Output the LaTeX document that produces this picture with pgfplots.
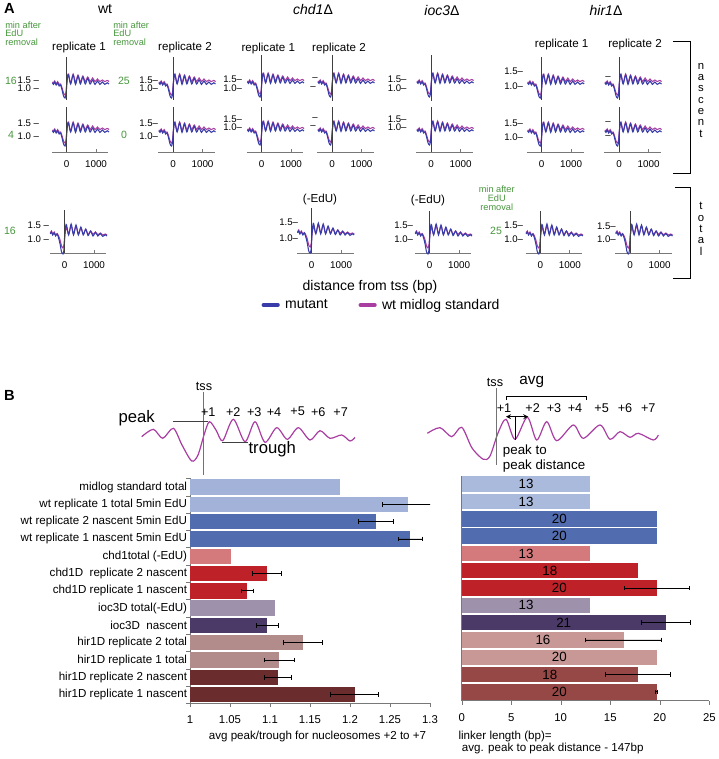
\documentclass[border=0pt]{standalone}
\usepackage{fontspec}
\setmainfont{Liberation Sans}
\usepackage{pgfplots}
\pgfplotsset{compat=1.18}
\usepackage{pgfplotstable}
\definecolor{mut}{RGB}{55,60,168}
\definecolor{wtc}{RGB}{168,62,162}
\definecolor{grn}{RGB}{70,150,60}
\definecolor{axg}{RGB}{120,120,120}
\definecolor{lb}{RGB}{163,178,216}
\definecolor{mb}{RGB}{82,108,176}
\definecolor{pk}{RGB}{213,122,124}
\definecolor{rd}{RGB}{190,33,40}
\definecolor{lav}{RGB}{158,145,172}
\definecolor{dp}{RGB}{75,57,103}
\definecolor{rb}{RGB}{178,140,138}
\definecolor{mr}{RGB}{107,44,46}
\definecolor{rb2}{RGB}{200,152,150}
\definecolor{mr2}{RGB}{150,72,70}
\definecolor{lb2}{RGB}{170,186,220}

\pgfplotstableread{
x y
-480 1.05
-440 0.98
-400 1.10
-350 0.95
-300 1.05
-250 0.90
-200 0.95
-150 0.70
-100 0.40
-50 0.30
-15 0.50
10 1.00
40 1.40
70 1.45
140 1.00
225 1.45
305 0.98
390 1.40
470 1.00
555 1.35
635 1.00
720 1.28
800 1.00
885 1.20
965 0.98
1050 1.15
1130 0.98
1215 1.10
1295 0.98
1380 1.06
1440 1.00
}\nasMut
\pgfplotstableread{
x y
-480 1.10
-440 1.05
-400 1.15
-350 1.00
-300 1.12
-250 0.98
-200 1.00
-150 0.80
-100 0.55
-50 0.45
-15 0.60
10 1.05
40 1.40
70 1.50
140 1.05
225 1.50
305 1.08
390 1.45
470 1.10
555 1.40
635 1.12
720 1.35
800 1.12
885 1.30
965 1.12
1050 1.25
1130 1.12
1215 1.20
1295 1.12
1380 1.18
1440 1.12
}\nasWT
\pgfplotstableread{
x y
-480 1.10
-440 1.20
-400 1.05
-350 1.15
-300 1.00
-250 1.10
-200 0.90
-150 0.60
-100 0.20
-50 0.10
-15 0.35
10 1.00
40 1.50
70 1.55
140 1.05
225 1.60
305 1.05
390 1.55
470 1.05
555 1.45
635 1.05
720 1.35
800 1.02
885 1.25
965 1.00
1050 1.18
1130 1.00
1215 1.12
1295 0.98
1380 1.06
1440 1.00
}\totMut
\pgfplotstableread{
x y
-480 1.15
-440 1.25
-400 1.10
-350 1.20
-300 1.05
-250 1.12
-200 1.00
-150 0.80
-100 0.50
-50 0.40
-15 0.60
10 1.05
40 1.30
70 1.45
140 1.10
225 1.50
305 1.12
390 1.50
470 1.10
555 1.40
635 1.10
720 1.32
800 1.08
885 1.25
965 1.08
1050 1.20
1130 1.06
1215 1.15
1295 1.05
1380 1.10
1440 1.05
}\totWT

\pgfplotsset{
  mini/.style={x=0.022125pt, y=15pt, xmin=-500, xmax=1420, clip=false,
    axis y line=none, ytick=\empty},
  noxax/.style={axis x line=none, xtick=\empty},
  xax/.style={axis x line*=bottom, xtick={0,1000}, xticklabels={0,1000},
    tick align=inside, major tick length=2.2pt,
    x axis line style={draw=axg, line width=0.6pt, -},
    xtick style={draw=axg, line width=0.6pt},
    xticklabel style={font=\fontsize{7.4}{8}\selectfont, inner sep=0pt, yshift=-6.5pt}},
  bar/.style={xbar, bar width=11.6pt, bar shift=0pt, draw=none, fill=#1},
  eb/.style={error bars/.cd, x dir=both, x explicit, error mark=|,
    error bar style={black, line width=0.55pt},
    error mark options={black, line width=0.55pt, mark size=1.7pt}},
}

\newcommand{\mini}[7]{%
  \pgfmathsetmacro{\ylo}{1-(#4-#2)/20}%
  \pgfmathsetmacro{\yhi}{1+(#2-#3)/20}%
  \pgfmathsetmacro{\ax}{(#1-14.75)*0.75}%
  \pgfmathsetmacro{\ay}{-#4*0.75}%
  \begin{axis}[mini, at={(\ax pt,\ay pt)}, anchor=south west, ymin=\ylo, ymax=\yhi, #7]
    \addplot[wtc, line width=0.8pt, smooth] table {#6};
    \addplot[mut, line width=0.8pt, smooth] table {#5};
    \addplot[black!75, line width=0.7pt] coordinates {(0,\ylo) (0,\yhi)};
  \end{axis}}

\newcommand{\fs}[1]{\fontsize{#1}{#1}\selectfont}

\begin{document}
\begin{tikzpicture}[x=0.75pt,y=0.75pt]
\path[use as bounding box] (0,0) rectangle (718,-759);

% ---------------- Panel A -----------------
\node[font=\fs{11}\bfseries] at (9.3,-8.3) {A};
\node[font=\fs{10.5}] at (105,-9.3) {wt};
\node[font=\fs{10.5}] at (313,-10) {\textit{chd1}Δ};
\node[font=\fs{10.5}] at (442,-10) {\textit{ioc3}Δ};
\node[font=\fs{10.5}] at (606,-10) {\textit{hir1}Δ};

\begin{scope}[every node/.style={font=\fs{6.9}, text=grn, inner sep=0pt}]
\node[anchor=west] at (5,-25) {min after};
\node[anchor=west] at (5,-33.5) {EdU};
\node[anchor=west] at (5,-42.5) {removal};
\node[anchor=west] at (113,-25) {min after};
\node[anchor=west] at (113,-33.5) {EdU};
\node[anchor=west] at (113,-42.5) {removal};
\node at (496.7,-189) {min after};
\node at (496.7,-198) {EdU};
\node at (496.7,-207.7) {removal};
\end{scope}
\begin{scope}[every node/.style={font=\fs{7.9}, text=grn, inner sep=0pt}]
\node at (11,-81) {16};
\node at (124,-81) {25};
\node at (11,-135) {4};
\node at (124,-135) {0};
\node at (10,-231) {16};
\node at (496,-231) {25};
\end{scope}

\begin{scope}[every node/.style={font=\fs{8.7}, inner sep=0pt}]
\node at (79,-47.7) {replicate 1};
\node at (185,-47.7) {replicate 2};
\node at (268.3,-48.3) {replicate 1};
\node at (339,-48.3) {replicate 2};
\node at (561.7,-44.3) {replicate 1};
\node at (635,-44.3) {replicate 2};
\node at (320,-199) {(-EdU)};
\node at (428,-200.7) {(-EdU)};
\end{scope}

% y labels of mini plots
\begin{scope}[every node/.style={font=\fs{7.2}, inner sep=0pt, anchor=east}]
\node at (39.3,-80) {1.5 –}; \node at (39.3,-88.5) {1.0 –};
\node at (158.3,-80) {1.5–}; \node at (158.3,-88.5) {1.0–};
\node at (242.3,-79.5) {1.5–}; \node at (242.3,-88) {1.0–};
\node at (318,-79.5) {–}; \node at (316,-88) {–};
\node at (406.7,-79.5) {1.5–}; \node at (406.7,-88) {1.0–};
\node at (523.3,-71) {1.5–}; \node at (523.3,-86) {1.0–};
\node at (611,-77.7) {–};
\node at (39.3,-123) {1.5 –}; \node at (39.3,-136) {1.0 –};
\node at (158.3,-123) {1.5–}; \node at (158.3,-136) {1.0–};
\node at (242.3,-119) {1.5–}; \node at (242.3,-127.5) {1.0–};
\node at (318,-119) {–}; \node at (316,-127.5) {–};
\node at (406.7,-119) {1.5–}; \node at (406.7,-127.5) {1.0–};
\node at (523.3,-123.3) {1.5–}; \node at (523.3,-136.7) {1.0–};
\node at (611,-122.7) {–}; \node at (611,-136.7) {–};
\node at (49.3,-225) {1.5 –}; \node at (49.3,-239) {1.0 –};
\node at (298.3,-222.3) {1.5–}; \node at (298.3,-237.7) {1.0–};
\node at (413.3,-225) {1.5–}; \node at (413.3,-239) {1.0–};
\node at (523.3,-225) {1.5–}; \node at (523.3,-239) {1.0–};
\node at (616,-226.7) {1.5–}; \node at (616,-239) {1.0–};
\end{scope}

% row 1 (nascent, no x axis)
\mini{66.5}{84}{57}{100}{\nasMut}{\nasWT}{noxax}
\mini{173}{84}{57}{100}{\nasMut}{\nasWT}{noxax}
\mini{261.5}{83}{55}{101}{\nasMut}{\nasWT}{noxax}
\mini{332}{83}{55}{101}{\nasMut}{\nasWT}{noxax}
\mini{431}{83}{55}{101}{\nasMut}{\nasWT}{noxax}
\mini{541.7}{84}{57}{100}{\nasMut}{\nasWT}{noxax}
\mini{619}{84}{57}{100}{\nasMut}{\nasWT}{noxax}
% row 2 (nascent, x axis)
\mini{66.5}{132}{107}{152}{\nasMut}{\nasWT}{xax}
\mini{173}{132}{107}{152}{\nasMut}{\nasWT}{xax}
\mini{261.5}{131}{107}{152}{\nasMut}{\nasWT}{xax}
\mini{332}{131}{107}{152}{\nasMut}{\nasWT}{xax}
\mini{431}{131}{107}{152}{\nasMut}{\nasWT}{xax}
\mini{541.7}{132}{107}{152}{\nasMut}{\nasWT}{xax}
\mini{619}{132}{107}{152}{\nasMut}{\nasWT}{xax}
% total row
\mini{64.5}{236}{210}{253}{\totMut}{\totWT}{xax}
\mini{311.7}{235}{208}{253}{\totMut}{\totWT}{xax}
\mini{429.5}{236}{211}{253}{\totMut}{\totWT}{xax}
\mini{540.3}{236}{211}{253}{\totMut}{\totWT}{xax}
\mini{630}{236}{211}{253}{\totMut}{\totWT}{xax}

% brackets
\draw[black, line width=0.8pt] (673,-41.7) -- (690.7,-41.7) -- (690.7,-173.3) -- (673,-173.3);
\draw[black, line width=0.8pt] (675,-187.3) -- (690.7,-187.3) -- (690.7,-278.3) -- (673,-278.3);
\node[font=\fs{8.5}, align=center, inner sep=0pt] at (701,-100) {\baselineskip=5.6pt n\\a\\s\\c\\e\\n\\t};
\node[font=\fs{8.5}, align=center, inner sep=0pt] at (701,-229) {\baselineskip=5.6pt t\\o\\t\\a\\l};

\node[font=\fs{10.5}] at (370,-287.3) {distance from tss (bp)};

% ---------------- overlay axis: legend + schematics -----------------
\begin{axis}[at={(0pt,0pt)}, anchor=north west, scale only axis, width=538.5pt, height=569.25pt,
  xmin=0, xmax=718, ymin=-759, ymax=0, hide axis, clip=false,
  legend style={at={(0.3640,0.5982)}, anchor=west, draw=none, fill=none,
    font=\fs{10.5}, legend columns=2, inner sep=0pt,
    /tikz/every odd column/.append style={column sep=2pt},
    /tikz/every even column/.append style={column sep=21pt}},
  legend image code/.code={\draw[#1, line width=2.6pt, line cap=round] (0pt,0pt) -- (11pt,0pt);}]
\addlegendimage{mut}\addlegendentry{mutant}
\addlegendimage{wtc}\addlegendentry{wt midlog standard}
% schematic 1
\addplot[wtc, line width=0.9pt, smooth, forget plot] coordinates {
(141.7,-436.7) (153.3,-429.3) (162.7,-438.3) (173.3,-428.3) (182,-445) (191.7,-461)
(198,-455) (204,-435) (209.3,-421.7) (216,-430) (222.7,-440.7) (233.3,-419.3)
(245,-441.7) (255,-421.7) (265,-442.3) (276.7,-427.7) (287.3,-439.3) (298.3,-427.7)
(310,-440) (320,-430.7) (330,-438.3) (341.7,-435) (350,-441) (355,-437.3)};
% schematic 2
\addplot[wtc, line width=0.9pt, smooth, forget plot] coordinates {
(427.3,-433.3) (440,-427.7) (451.7,-436.7) (461.7,-427.3) (472,-448) (483.3,-459.3)
(490,-456) (498,-433) (506,-419.3) (515,-439.3) (527.3,-417.3) (536.7,-440)
(546.7,-421.7) (556.7,-440.7) (573.3,-425) (583.3,-438.3) (600,-425) (610,-439.3)
(620,-431.7) (630,-437.3) (638.3,-433.3) (653.3,-440) (658.3,-435)};
\end{axis}

% ---------------- Panel B annotations -----------------
\node[font=\fs{11}\bfseries] at (9.3,-395) {B};
\draw[black!55, line width=0.6pt] (203.3,-391.7) -- (203.3,-475);
\node[font=\fs{9.5}] at (204,-386) {tss};
\begin{scope}[every node/.style={font=\fs{9.5}}]
\node at (208.3,-411.7) {+1}; \node at (233.3,-411.7) {+2}; \node at (254.3,-411.7) {+3};
\node at (274,-411.7) {+4}; \node at (297.7,-411.7) {+5}; \node at (318.3,-411.7) {+6};
\node at (340.7,-411.7) {+7};
\end{scope}
\node[font=\fs{12.5}] at (136.7,-418.3) {peak};
\draw[black!75, line width=0.7pt] (172.7,-421) -- (208.3,-421);
\draw[black!75, line width=0.7pt] (221.7,-442.3) -- (248.3,-442.3);
\node[font=\fs{12.5}, anchor=west, inner sep=0pt] at (248.3,-449.3) {trough};

\draw[black!55, line width=0.6pt] (496.7,-388) -- (496.7,-465);
\node[font=\fs{9.5}] at (495,-382.7) {tss};
\node[font=\fs{11.5}] at (531.7,-381.7) {avg};
\draw[black, line width=0.7pt] (506.7,-400) -- (506.7,-396) -- (586.7,-396) -- (586.7,-400);
\begin{scope}[every node/.style={font=\fs{9.5}}]
\node at (504,-408.3) {+1}; \node at (532.7,-408.3) {+2}; \node at (554,-408.3) {+3};
\node at (575,-408.3) {+4}; \node at (601.7,-408.3) {+5}; \node at (625,-408.3) {+6};
\node at (648.3,-408.3) {+7};
\end{scope}
\draw[black, line width=0.7pt, <->, >=stealth] (506,-416.7) -- (528.3,-416.7);
\draw[black, line width=0.7pt] (515,-417) -- (515,-440);
\node[font=\fs{10}, anchor=west, inner sep=0pt] at (502.7,-450.7) {peak to};
\node[font=\fs{10}, anchor=west, inner sep=0pt] at (502.7,-466) {peak distance};

% ---------------- Bar chart 1 -----------------
\begin{axis}[at={(142.5pt,-527.475pt)}, anchor=south west, scale only axis,
  width=180pt, height=168.7pt, xmin=1, xmax=1.3, ymin=-0.5, ymax=12.5,
  axis x line*=bottom, axis y line*=left, axis line style={draw=axg, -},
  xtick={1,1.05,1.1,1.15,1.2,1.25,1.3}, xticklabels={1,1.05,1.1,1.15,1.2,1.25,1.3},
  ytick={0,...,12}, minor ytick={-0.5,0.5,...,12.5},
  yticklabels={hir1D replicate 1 nascent\hspace{7.5pt}, hir1D replicate 2 nascent\hspace{7.5pt},
    hir1D replicate 1 total\hspace{5pt}, hir1D replicate 2 total\hspace{5pt},
    ioc3D\ \ nascent\hspace{0.8pt}, ioc3D total(-EdU)\hspace{2.2pt},
    chd1D replicate 1 nascent\hspace{8.8pt}, chd1D\ \ replicate 2 nascent\hspace{8.8pt},
    chd1total (-EdU)\hspace{1.7pt}, wt replicate 1 nascent 5min EdU\hspace{13.7pt},
    wt replicate 2 nascent 5min EdU\hspace{13.7pt}, wt replicate 1 total 5min EdU\hspace{6.2pt},
    midlog standard total},
  tick align=outside, major tick length=3pt, minor tick length=3pt,
  major y tick style={draw=none}, minor y tick style={draw=axg},
  xtick style={draw=axg},
  yticklabel style={font=\fs{8.7}, inner sep=0pt, xshift=1pt},
  xticklabel style={font=\fs{8.5}, yshift=-2.5pt},
  /pgf/number format/assume math mode=true]
\addplot[bar=lb] coordinates {(1.187,12)};
\addplot[bar=lb, eb] coordinates {(1.273,11) +- (0.033,0)};
\addplot[bar=mb, eb] coordinates {(1.2325,10) +- (0.022,0)};
\addplot[bar=mb, eb] coordinates {(1.275,9) +- (0.015,0)};
\addplot[bar=pk] coordinates {(1.051,8)};
\addplot[bar=rd, eb] coordinates {(1.096,7) +- (0.018,0)};
\addplot[bar=rd, eb] coordinates {(1.0717,6) +- (0.0075,0)};
\addplot[bar=lav] coordinates {(1.106,5)};
\addplot[bar=dp, eb] coordinates {(1.0967,4) +- (0.014,0)};
\addplot[bar=rb, eb] coordinates {(1.1408,3) +- (0.0246,0)};
\addplot[bar=rb, eb] coordinates {(1.1117,2) +- (0.019,0)};
\addplot[bar=mr, eb] coordinates {(1.1096,1) +- (0.0167,0)};
\addplot[bar=mr, eb] coordinates {(1.206,0) +- (0.03,0)};
\end{axis}
\node[font=\fs{8.7}] at (317.5,-736.7) {avg peak/trough for nucleosomes +2 to +7};

% ---------------- Bar chart 2 -----------------
\begin{axis}[at={(346.275pt,-525.375pt)}, anchor=south west, scale only axis,
  width=185.7pt, height=168.7pt, xmin=0, xmax=25, ymin=-0.5, ymax=12.5,
  axis x line*=bottom, axis y line*=left, axis line style={draw=axg, -},
  xtick={0,5,10,15,20,25}, xticklabels={0,5,10,15,20,25},
  ytick=\empty, minor ytick={-0.5,0.5,...,12.5},
  tick align=outside, major tick length=3pt, minor tick length=3pt,
  minor y tick style={draw=axg}, xtick style={draw=axg},
  xticklabel style={font=\fs{8.5}, yshift=-3.5pt},
  /pgf/number format/assume math mode=true]
\addplot[bar=lb2] coordinates {(13.0,12)};
\addplot[bar=lb2] coordinates {(13.0,11)};
\addplot[bar=mb] coordinates {(19.7,10)};
\addplot[bar=mb] coordinates {(19.7,9)};
\addplot[bar=pk] coordinates {(13.0,8)};
\addplot[bar=rd] coordinates {(17.8,7)};
\addplot[bar=rd, eb] coordinates {(19.7,6) +- (3.3,0)};
\addplot[bar=lav] coordinates {(13.0,5)};
\addplot[bar=dp, eb] coordinates {(20.6,4) +- (2.5,0)};
\addplot[bar=rb2, eb] coordinates {(16.35,3) +- (3.85,0)};
\addplot[bar=rb2] coordinates {(19.7,2)};
\addplot[bar=mr2, eb] coordinates {(17.8,1) +- (3.25,0)};
\addplot[bar=mr2, eb] coordinates {(19.7,0) +- (0.1,0)};
\begin{scope}[every node/.style={font=\fs{10}}]
\node at (axis cs:6.5,12) {13};
\node at (axis cs:6.5,11) {13};
\node at (axis cs:9.85,10) {20};
\node at (axis cs:9.85,9) {20};
\node at (axis cs:6.5,8) {13};
\node at (axis cs:8.9,7) {18};
\node at (axis cs:9.85,6) {20};
\node at (axis cs:6.5,5) {13};
\node at (axis cs:10.3,4) {21};
\node at (axis cs:8.2,3) {16};
\node at (axis cs:9.85,2) {20};
\node at (axis cs:8.9,1) {18};
\node at (axis cs:9.85,0) {20};
\end{scope}
\end{axis}
\node[font=\fs{8.7}, anchor=west, inner sep=0pt] at (458.3,-736.7) {linker length (bp)=};
\node[font=\fs{8.7}, anchor=west, inner sep=0pt] at (461.7,-748.3) {avg. peak to peak distance - 147bp};
\end{tikzpicture}
\end{document}
